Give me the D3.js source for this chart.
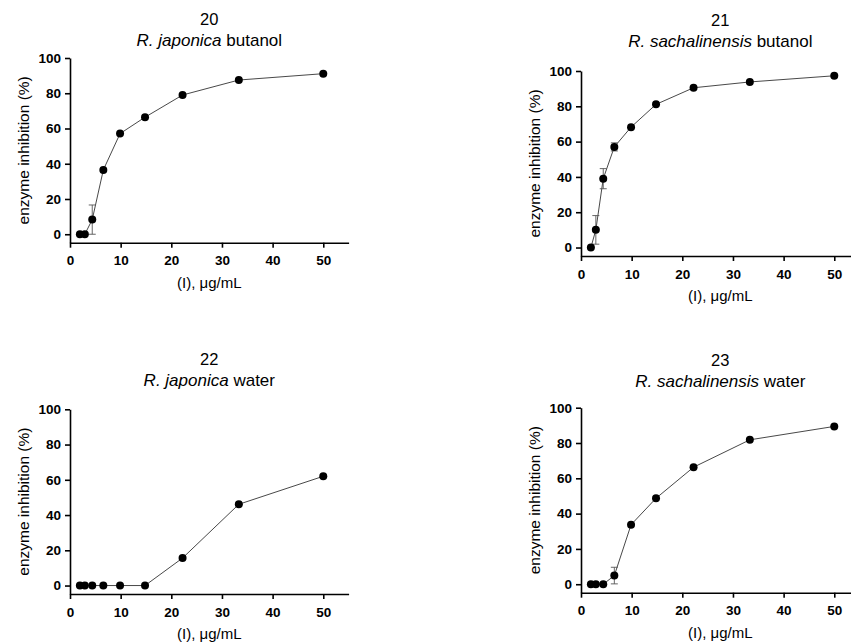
<!DOCTYPE html>
<html>
<head>
<meta charset="utf-8">
<script src="https://cdn.jsdelivr.net/npm/d3@7"></script>
<style>
  body { margin: 0; background: #fff; }
  svg { display: block; font-family: "Liberation Sans", Arial, sans-serif; }
</style>
</head>
<body>
<div id="chart"></div>
<script>
// concentrations (µg/mL), 1.5-fold dilution series
const conc = [1.95, 2.93, 4.39, 6.58, 9.88, 14.81, 22.22, 33.33, 50];

const panelNumbers = ["20", "21", "22", "23"];
const species = ["R. japonica", "R. sachalinensis", "R. japonica", "R. sachalinensis"];
const extracts = ["butanol", "butanol", "water", "water"];

// mean inhibition (%)
const jpButanol = [0, 0, 8.3, 36.5, 57.1, 66.4, 79.0, 87.5, 91.1];
const saButanol = [0, 10.0, 39.0, 57.0, 68.2, 81.1, 90.5, 93.8, 97.3];
const jpWater = [0, 0, 0, 0, 0, 0, 15.6, 46.1, 62.0];
const saWater = [0, 0, 0, 4.9, 33.7, 48.7, 66.3, 81.8, 89.4];

// error (SD)
const jpButanolErr = [0, 0, 8.3, 0, 0, 0, 0, 0, 0];
const saButanolErr = [0, 8.1, 5.7, 2.3, 0, 0, 0, 0, 0];
const jpWaterErr = [0, 0, 0, 0, 0, 0, 0, 0, 0];
const saWaterErr = [0, 0, 0, 4.7, 0, 0, 0, 0, 0];

const xTicks = [0, 10, 20, 30, 40, 50];
const yTicks = [0, 20, 40, 60, 80, 100];

const seriesValues = [jpButanol, saButanol, jpWater, saWater];
const seriesErrors = [jpButanolErr, saButanolErr, jpWaterErr, saWaterErr];

// panel placement: left edge, y=100 pixel, x axis line pixel, title baseline
const layout = [
    { left: 70, top: 58, bottom: 242.7, titleY: 25 },
    { left: 581, top: 71, bottom: 256, titleY: 26 },
    { left: 70, top: 409.3, bottom: 594, titleY: 365 },
    { left: 581, top: 407.7, bottom: 592.7, titleY: 366 }
];
const plotWidth = 278.6;

const svg = d3.select("#chart")
    .append("svg")
    .attr("width", 851)
    .attr("height", 644);

layout.forEach(function (L, i) {
    const g = svg.append("g").attr("transform", "translate(" + L.left + ",0)");

    const x = d3.scaleLinear().domain([0, 55]).range([0, plotWidth]);
    const y = d3.scaleLinear().domain([-4.8, 100]).range([L.bottom, L.top]);

    // titles
    const cx = plotWidth / 2;
    g.append("text")
        .attr("x", cx)
        .attr("y", L.titleY)
        .attr("text-anchor", "middle")
        .style("font-size", "16.5px")
        .text(panelNumbers[i]);
    const sub = g.append("text")
        .attr("x", cx)
        .attr("y", L.titleY + 20.5)
        .attr("text-anchor", "middle")
        .style("font-size", "17px");
    sub.append("tspan").style("font-style", "italic").text(species[i]);
    sub.append("tspan").text(" " + extracts[i]);

    // axes
    const xAxis = g.append("g")
        .attr("transform", "translate(0," + L.bottom + ")")
        .call(d3.axisBottom(x).tickValues(xTicks).tickSize(5).tickSizeOuter(0).tickPadding(8));
    const yAxis = g.append("g")
        .call(d3.axisLeft(y).tickValues(yTicks).tickSize(5).tickSizeOuter(0).tickPadding(4));

    [xAxis, yAxis].forEach(function (a) {
        a.selectAll("path, line").attr("stroke", "#000").attr("stroke-width", 1.6);
        a.selectAll("text")
            .attr("fill", "#000")
            .style("font-size", "13.5px")
            .style("font-weight", "bold")
            .style("font-family", "'Liberation Sans', Arial, sans-serif");
    });

    // axis titles
    g.append("text")
        .attr("x", cx)
        .attr("y", L.bottom + 45)
        .attr("text-anchor", "middle")
        .style("font-size", "15px")
        .text("(I), \u03bcg/mL");
    g.append("text")
        .attr("transform", "rotate(-90)")
        .attr("x", -(L.top + L.bottom) / 2)
        .attr("y", -41)
        .attr("text-anchor", "middle")
        .style("font-size", "15.5px")
        .text("enzyme inhibition (%)");

    const pts = conc.map(function (c, j) {
        return { c: c, v: seriesValues[i][j], e: seriesErrors[i][j] };
    });

    // connecting line
    g.append("path")
        .datum(pts)
        .attr("fill", "none")
        .attr("stroke", "#333")
        .attr("stroke-width", 0.9)
        .attr("d", d3.line().x(function (d) { return x(d.c); }).y(function (d) { return y(d.v); }));

    // error bars
    const eb = g.selectAll(".err")
        .data(pts.filter(function (d) { return d.e > 0; }))
        .enter()
        .append("g")
        .attr("stroke", "#555")
        .attr("stroke-width", 0.9);
    eb.append("line")
        .attr("x1", function (d) { return x(d.c); })
        .attr("x2", function (d) { return x(d.c); })
        .attr("y1", function (d) { return y(d.v - d.e); })
        .attr("y2", function (d) { return y(d.v + d.e); });
    eb.append("line")
        .attr("x1", function (d) { return x(d.c) - 3.5; })
        .attr("x2", function (d) { return x(d.c) + 3.5; })
        .attr("y1", function (d) { return y(d.v + d.e); })
        .attr("y2", function (d) { return y(d.v + d.e); });
    eb.append("line")
        .attr("x1", function (d) { return x(d.c) - 3.5; })
        .attr("x2", function (d) { return x(d.c) + 3.5; })
        .attr("y1", function (d) { return y(d.v - d.e); })
        .attr("y2", function (d) { return y(d.v - d.e); });

    // points
    g.selectAll(".pt")
        .data(pts)
        .enter()
        .append("circle")
        .attr("cx", function (d) { return x(d.c); })
        .attr("cy", function (d) { return y(d.v); })
        .attr("r", 4)
        .attr("fill", "#000");
});
</script>
</body>
</html>
